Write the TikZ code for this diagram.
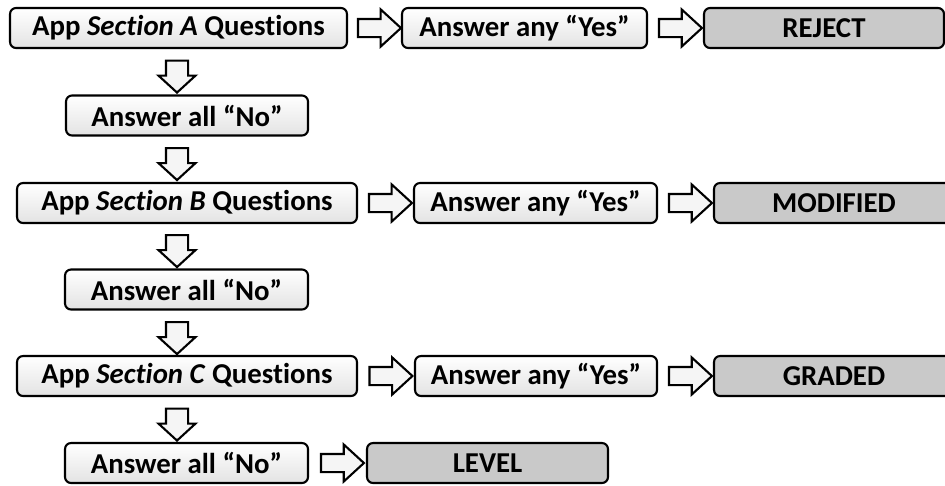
\documentclass[tikz,border=0pt]{standalone}
\usepackage{fontspec}
\setmainfont{Carlito}[Ligatures={TeX,NoCommon}]
\usetikzlibrary{shapes.arrows,calc}

\begin{document}
\begin{tikzpicture}
  [x=0.02cm, y=-0.02cm, line width=1.2pt,
   qbox/.style={draw, rounded corners=0.12cm, minimum height=0.8cm, inner sep=0,
     top color=white, bottom color=black!11, font=\fontsize{16.4}{19}\selectfont\bfseries},
   endbox/.style={draw, rounded corners=0.12cm, minimum height=0.8cm, inner sep=0,
     fill=black!21, font=\fontsize{16.4}{19}\selectfont\bfseries},
   rarr/.style={draw, single arrow, fill=black!4, inner xsep=0, inner ysep=0.16cm,
     minimum width=0, minimum height=0.86cm, single arrow head extend=0.19cm,
     single arrow tip angle=85},
   darr/.style={rarr, rotate=-90, inner ysep=0.2cm, minimum height=0.64cm,
     single arrow head extend=0.15cm, single arrow tip angle=95}]
  \clip (0,0) rectangle (945,485);

  % row A
  \node[qbox, minimum width=6.74cm] (A) at (178.5,28) {App \textit{Section A} Questions};
  \node[qbox, minimum width=4.9cm] (ya) at (524.5,28) {Answer any “Yes”};
  \node[endbox, minimum width=4.8cm] (rej) at (824,28) {REJECT};
  \node[qbox, minimum width=4.84cm] (no1) at (187,115.5) {Answer all “No”};

  % row B
  \node[qbox, minimum width=6.8cm] (B) at (187,203) {App \textit{Section B} Questions};
  \node[qbox, minimum width=4.86cm] (yb) at (535.5,203) {Answer any “Yes”};
  \node[endbox, minimum width=4.8cm] (mod) at (834,203) {MODIFIED};
  \node[qbox, minimum width=4.86cm] (no2) at (186.5,289.5) {Answer all “No”};

  % row C
  \node[qbox, minimum width=6.8cm] (C) at (187,376) {App \textit{Section C} Questions};
  \node[qbox, minimum width=4.84cm] (yc) at (536,376) {Answer any “Yes”};
  \node[endbox, minimum width=4.8cm] (gra) at (834,376) {GRADED};
  \node[qbox, minimum width=4.86cm] (no3) at (186.5,463) {Answer all “No”};
  \node[endbox, minimum width=4.82cm] (lev) at (487.5,463) {LEVEL};

  % block arrows
  \node[rarr] (ra1) at ($(A.east)!0.5!(ya.west)$) {};
  \node[rarr] (ra2) at ($(ya.east)!0.5!(rej.west)$) {};
  \node[rarr] (rb1) at ($(B.east)!0.5!(yb.west)$) {};
  \node[rarr] (rb2) at ($(yb.east)!0.5!(mod.west)$) {};
  \node[rarr] (rc1) at ($(C.east)!0.5!(yc.west)$) {};
  \node[rarr] (rc2) at ($(yc.east)!0.5!(gra.west)$) {};
  \node[rarr] (rn3) at ($(no3.east)!0.5!(lev.west)$) {};
  \foreach \y [count=\i] in {71.5, 159, 246, 333, 419.5}
    \node[darr] (d\i) at (177,\y) {};
\end{tikzpicture}
\end{document}
